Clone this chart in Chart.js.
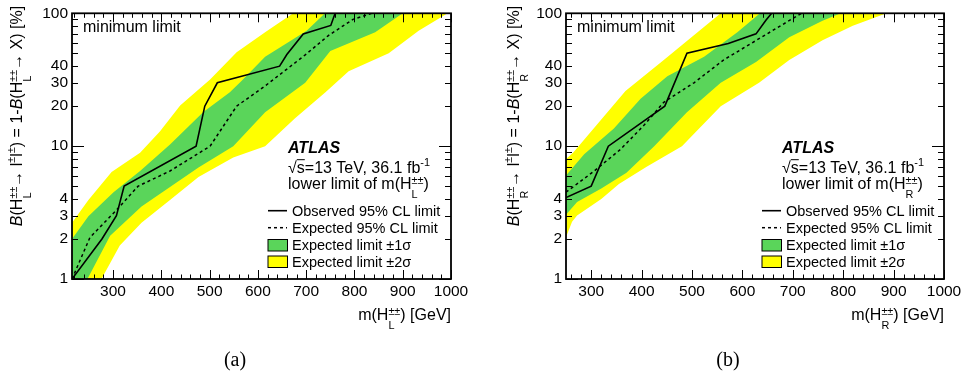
<!DOCTYPE html>
<html>
<head>
<meta charset="utf-8">
<script src="https://cdn.jsdelivr.net/npm/chart.js@4.4.0/dist/chart.umd.min.js"></script>
<style>
  html, body { margin: 0; padding: 0; background: #fff; }
  #wrap { position: relative; width: 965px; height: 379px; }
  .panel { position: absolute; top: 0; height: 379px; }
</style>
</head>
<body>
<div id="wrap">
  <div class="panel" style="left:0;width:482px"><canvas id="chartL" width="482" height="379"></canvas></div>
  <div class="panel" style="left:482px;width:483px"><canvas id="chartR" width="483" height="379"></canvas></div>
</div>
<script>
// axis labels
const xTickLabels = [300, 400, 500, 600, 700, 800, 900, 1000];
const yTickLabels = [1, 2, 3, 4, 10, 20, 30, 40, 100];

// (a) left-handed H++ : mass [GeV] vs. minimum limit on B(ll) [%]
const lObsMass = [215, 277, 307, 311, 323, 472, 490, 516, 645, 660, 694, 751, 760];
const lObsLimit = [1, 2, 3, 3.4, 5, 10, 20, 30, 40, 49, 70, 81, 100];
const lExpMass = [215, 252, 307, 352, 418, 501, 556, 615, 698, 746, 797, 836];
const lExpLimit = [1, 2.05, 3.3, 5, 6.5, 10, 20, 28.4, 48.6, 68, 90, 100];
const lOneUpMass = [215, 249, 301, 356, 418, 487, 542, 566, 615, 701, 739];
const lOneUpLimit = [2, 2.97, 4.5, 6.5, 10.3, 18.1, 25.4, 30.9, 47, 74, 100];
const lOneDnMass = [247, 294, 359, 477, 549, 615, 698, 750, 843, 900];
const lOneDnLimit = [1, 2.12, 3.52, 6.9, 10, 18, 30, 52, 72, 100];
const lTwoUpMass = [215, 249, 297, 356, 397, 439, 501, 556, 615, 673];
const lTwoUpLimit = [2.65, 3.94, 6.4, 8.9, 12.9, 20.2, 31.8, 51, 72, 100];
const lTwoDnMass = [276, 314, 359, 418, 477, 549, 615, 677, 740, 788, 871, 933, 993];
const lTwoDnLimit = [1, 1.79, 2.65, 3.94, 5.85, 8.2, 10, 16.2, 25.4, 36.6, 50, 74, 100];

// (b) right-handed H++
const rObsMass = [250, 300, 334, 446, 490, 572, 627, 647, 658];
const rObsLimit = [4.1, 5, 10, 20, 50, 59.3, 70, 89, 100];
const rExpMass = [250, 306, 358, 405, 444, 504, 563, 633, 717];
const rExpLimit = [4.5, 6.5, 9.45, 14.4, 21.4, 30, 44.6, 64.4, 100];
const rOneUpMass = [250, 286, 345, 398, 451, 524, 590, 635];
const rOneUpLimit = [6, 8.7, 13.6, 22.7, 33.6, 47, 72, 100];
const rOneDnMass = [250, 272, 320, 370, 425, 490, 557, 627, 693, 759, 795];
const rOneDnLimit = [3.05, 3.8, 4.8, 6.3, 10, 18, 30, 43, 66, 88, 100];
const rTwoUpMass = [250, 264, 368, 444, 511, 557];
const rTwoUpLimit = [8, 8.9, 26, 44.6, 72, 100];
const rTwoDnMass = [250, 262, 272, 320, 355, 410, 480, 557, 633, 693, 759, 819, 886];
const rTwoDnLimit = [2.06, 2.7, 3, 4, 5.2, 7, 10, 20, 30, 44.6, 62.6, 80.7, 100];

const GREEN = '#5ad55a';
const YELLOW = '#ffff00';
const FONT = '"Liberation Sans", Arial, Helvetica, sans-serif';
const fnt = (size, style) => `${style || ''} ${size}px ${FONT}`;

const toPts = (xs, ys) => xs.map((x, i) => ({ x, y: ys[i] }));

// closed outline: upper edge forward, lower edge backward
function band(upM, upB, dnM, dnB, xmin) {
  const pts = toPts(upM, upB).concat(toPts(dnM, dnB).reverse());
  if (dnM[0] > xmin) pts.push({ x: xmin, y: dnB[0] });
  return pts;
}

// text with sub/superscripts, y = baseline
function drawRich(ctx, parts, x, y, size, align) {
  const items = parts.map(p => typeof p === 'string' ? { t: p } : p);
  let total = 0;
  items.forEach(it => {
    if (it.sup !== undefined || it.sub !== undefined) {
      ctx.font = fnt(size * 0.68);
      it.w = Math.max(ctx.measureText(it.sup || '').width, ctx.measureText(it.sub || '').width);
    } else {
      ctx.font = fnt(size, it.s);
      it.w = ctx.measureText(it.t).width;
    }
    total += it.w;
  });
  let cx = align === 'right' ? x - total : align === 'center' ? x - total / 2 : x;
  ctx.textAlign = 'left';
  ctx.textBaseline = 'alphabetic';
  items.forEach(it => {
    if (it.sup !== undefined || it.sub !== undefined) {
      ctx.font = fnt(size * 0.68);
      if (it.sub !== undefined) {
        ctx.fillText(it.sup, cx, y - size * 0.3);
        ctx.fillText(it.sub, cx, y + size * 0.55);
      } else {
        ctx.fillText(it.sup, cx, y - size * 0.42);
      }
    } else {
      ctx.font = fnt(size, it.s);
      ctx.fillText(it.t, cx, y);
      if (it.over) {
        ctx.beginPath();
        ctx.lineWidth = 1;
        ctx.moveTo(cx, y - size * 0.8);
        ctx.lineTo(cx + it.w, y - size * 0.8);
        ctx.stroke();
      }
    }
    cx += it.w;
  });
}

function decor(p) {
  return {
    id: 'decor',
    afterDraw(chart) {
      const { ctx, chartArea: a, scales: { x, y } } = chart;
      ctx.save();
      ctx.strokeStyle = '#000';
      ctx.fillStyle = '#000';
      ctx.lineWidth = 1;
      const seg = (x1, y1, x2, y2) => { ctx.beginPath(); ctx.moveTo(x1, y1); ctx.lineTo(x2, y2); ctx.stroke(); };

      // inward ticks on all four sides
      for (let m = Math.ceil(x.min / 20) * 20; m <= x.max; m += 20) {
        const px = Math.round(x.getPixelForValue(m)) + 0.5;
        const len = m % 100 === 0 ? 9 : 4.5;
        seg(px, a.bottom, px, a.bottom - len);
        seg(px, a.top, px, a.top + len);
      }
      [1, 10].forEach(dec => {
        for (let k = 1; k <= 9; k++) {
          const py = Math.round(y.getPixelForValue(k * dec)) + 0.5;
          const len = k === 1 ? 12 : 6;
          seg(a.left, py, a.left + len, py);
          seg(a.right, py, a.right - len, py);
        }
      });

      // frame
      ctx.lineWidth = 1.8;
      ctx.strokeRect(a.left, a.top, a.right - a.left, a.bottom - a.top);

      // labels inside the frame
      const L = a.left;
      drawRich(ctx, ['minimum limit'], L + 11, 32, 16);
      drawRich(ctx, [{ t: 'ATLAS', s: 'italic bold' }], L + 216, 153, 16);
      drawRich(ctx, [{ t: '√' }, { t: 's', over: true }, '=13 TeV, 36.1 fb', { sup: '-1' }], L + 216, 172.5, 16);
      drawRich(ctx, ['lower limit of m(H', { sup: '±±', sub: p.sub }, ')'], L + 216, 189, 16);

      // legend
      ctx.lineWidth = 1.6;
      seg(L + 196, 210.7, L + 215, 210.7);
      ctx.setLineDash([3, 3]);
      ctx.lineWidth = 1.5;
      seg(L + 196, 227.7, L + 215, 227.7);
      ctx.setLineDash([]);
      ctx.lineWidth = 1;
      ctx.fillStyle = GREEN;
      ctx.fillRect(L + 196, 239.5, 19.5, 11.5);
      ctx.strokeRect(L + 196, 239.5, 19.5, 11.5);
      ctx.fillStyle = YELLOW;
      ctx.fillRect(L + 196, 256, 19.5, 11.5);
      ctx.strokeRect(L + 196, 256, 19.5, 11.5);
      ctx.fillStyle = '#000';
      drawRich(ctx, ['Observed 95% CL limit'], L + 220, 215.5, 14.5);
      drawRich(ctx, ['Expected 95% CL limit'], L + 220, 232.5, 14.5);
      drawRich(ctx, ['Expected limit ±1σ'], L + 220, 249.5, 14.5);
      drawRich(ctx, ['Expected limit ±2σ'], L + 220, 266.5, 14.5);

      // axis titles
      drawRich(ctx, ['m(H', { sup: '±±', sub: p.sub }, ') [GeV]'], a.right, 320, 16, 'right');
      ctx.save();
      ctx.translate(p.yTitleX, 116);
      ctx.rotate(-Math.PI / 2);
      drawRich(ctx, [{ t: 'B', s: 'italic' }, '(H', { sup: '±±', sub: p.sub }, '→ l', { sup: '±' }, 'l', { sup: '±' },
        ') = 1-', { t: 'B', s: 'italic' }, '(H', { sup: '±±', sub: p.sub }, '→ X) [%]'], 0, 5.8, 16, 'center');
      ctx.restore();

      // caption
      ctx.font = '20px "Liberation Serif", "Times New Roman", serif';
      ctx.textAlign = 'center';
      ctx.textBaseline = 'alphabetic';
      ctx.fillText(p.caption, p.captionX, 366);
      ctx.restore();
    }
  };
}

function makeChart(id, p) {
  const tickFont = { family: FONT, size: 15.5 };
  return new Chart(document.getElementById(id), {
    type: 'line',
    data: {
      datasets: [
        { data: toPts(p.obsM, p.obsB), borderColor: '#000', borderWidth: 1.6, pointRadius: 0, fill: false },
        { data: toPts(p.expM, p.expB), borderColor: '#000', borderWidth: 1.5, borderDash: [3, 3], pointRadius: 0, fill: false },
        { data: band(p.oneUpM, p.oneUpB, p.oneDnM, p.oneDnB, p.xmin), borderWidth: 0, borderColor: GREEN,
          backgroundColor: GREEN, pointRadius: 0, fill: 'shape' },
        { data: band(p.twoUpM, p.twoUpB, p.twoDnM, p.twoDnB, p.xmin), borderWidth: 0, borderColor: YELLOW,
          backgroundColor: YELLOW, pointRadius: 0, fill: 'shape' }
      ]
    },
    options: {
      responsive: false,
      animation: false,
      events: [],
      layout: { autoPadding: false, padding: { left: 0, right: p.padRight, top: 7, bottom: 0 } },
      plugins: { legend: { display: false }, tooltip: { enabled: false } },
      scales: {
        x: {
          type: 'linear', min: p.xmin, max: 1000,
          grid: { display: false, drawTicks: false }, border: { display: false },
          ticks: { font: tickFont, color: '#000', padding: 3, autoSkip: false, maxRotation: 0, callback: v => String(v) },
          afterBuildTicks: s => { s.ticks = xTickLabels.map(v => ({ value: v })); },
          afterFit: s => { s.height = 100; }
        },
        y: {
          type: 'logarithmic', min: 1, max: 100,
          grid: { display: false, drawTicks: false }, border: { display: false },
          ticks: { font: tickFont, color: '#000', padding: 4, autoSkip: false, callback: v => String(v) },
          afterBuildTicks: s => { s.ticks = yTickLabels.map(v => ({ value: v })); },
          afterFit: s => { s.width = p.yWidth; }
        }
      }
    },
    plugins: [decor(p)]
  });
}

makeChart('chartL', {
  xmin: 215, sub: 'L', yWidth: 72, padRight: 31, yTitleX: 16, caption: '(a)', captionX: 235,
  obsM: lObsMass, obsB: lObsLimit, expM: lExpMass, expB: lExpLimit,
  oneUpM: lOneUpMass, oneUpB: lOneUpLimit, oneDnM: lOneDnMass, oneDnB: lOneDnLimit,
  twoUpM: lTwoUpMass, twoUpB: lTwoUpLimit, twoDnM: lTwoDnMass, twoDnB: lTwoDnLimit
});
makeChart('chartR', {
  xmin: 250, sub: 'R', yWidth: 84, padRight: 21, yTitleX: 31, caption: '(b)', captionX: 246,
  obsM: rObsMass, obsB: rObsLimit, expM: rExpMass, expB: rExpLimit,
  oneUpM: rOneUpMass, oneUpB: rOneUpLimit, oneDnM: rOneDnMass, oneDnB: rOneDnLimit,
  twoUpM: rTwoUpMass, twoUpB: rTwoUpLimit, twoDnM: rTwoDnMass, twoDnB: rTwoDnLimit
});
</script>
</body>
</html>
